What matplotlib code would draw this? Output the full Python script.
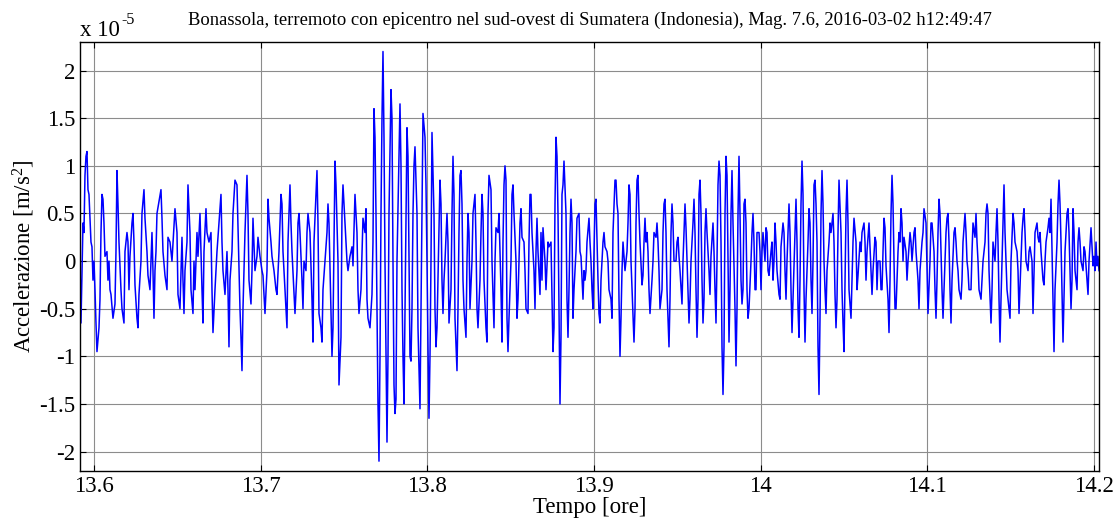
import numpy as np
import matplotlib
matplotlib.use("Agg")
import matplotlib.pyplot as plt
from matplotlib.ticker import FuncFormatter, MultipleLocator

plt.rcParams['font.family'] = ['Liberation Serif', 'DejaVu Serif']
plt.rcParams['mathtext.fontset'] = 'custom'
plt.rcParams['mathtext.rm'] = 'Liberation Serif'
plt.rcParams['mathtext.it'] = 'Liberation Serif:italic'
plt.rcParams['axes.unicode_minus'] = False

# (tempo [ore], accelerazione [x 1e-5 m/s^2]), tratto per tratto
seg1 = [(13.5916, 0.0), (13.5922, -0.65), (13.5934, 0.4), (13.5940, 0.3), (13.5946, 0.9), (13.5952, 1.1),
        (13.5958, 1.15), (13.5964, 0.75), (13.5970, 0.7), (13.5982, 0.2), (13.5988, 0.15), (13.5994, -0.2),
        (13.6000, 0.0), (13.6006, -0.3), (13.6012, -0.65), (13.6018, -0.95), (13.6030, -0.7), (13.6036, -0.4),
        (13.6042, 0.3), (13.6048, 0.7), (13.6054, 0.65), (13.6060, 0.4), (13.6066, 0.05), (13.6078, 0.1),
        (13.6084, -0.2), (13.6090, 0.0), (13.6096, -0.3), (13.6102, -0.35), (13.6114, -0.6), (13.6126, -0.45),
        (13.6132, 0.1), (13.6138, 0.95), (13.6144, 0.6), (13.6150, 0.2), (13.6162, -0.3), (13.6168, -0.5),
        (13.6180, -0.65), (13.6186, 0.1), (13.6198, 0.3), (13.6204, 0.2), (13.6210, -0.3), (13.6216, 0.05),
        (13.6228, 0.4), (13.6234, 0.5), (13.6240, 0.2), (13.6246, -0.25), (13.6258, -0.6), (13.6264, -0.7),
        (13.6270, -0.35), (13.6282, 0.0), (13.6288, 0.5), (13.6300, 0.75), (13.6306, 0.45), (13.6318, 0.1),
        (13.6324, -0.15), (13.6336, -0.3), (13.6342, 0.0), (13.6348, 0.3), (13.6354, -0.1), (13.6360, -0.6),
        (13.6366, -0.1), (13.6372, 0.1), (13.6378, 0.5), (13.6402, 0.75), (13.6408, 0.45), (13.6414, 0.1),
        (13.6426, -0.15), (13.6438, -0.3), (13.6444, 0.25)]
seg2 = [(13.6456, 0.2), (13.6468, 0.0), (13.6486, 0.55), (13.6498, 0.3), (13.6504, -0.35), (13.6516, -0.5),
        (13.6528, 0.25), (13.6534, -0.2), (13.6540, -0.55), (13.6546, -0.1), (13.6558, 0.2), (13.6564, 0.8),
        (13.6576, 0.3), (13.6582, -0.3), (13.6594, -0.55), (13.6600, 0.0), (13.6606, -0.3), (13.6618, 0.3),
        (13.6624, 0.05), (13.6636, 0.5), (13.6648, -0.3), (13.6654, -0.65), (13.6660, 0.1), (13.6672, 0.55),
        (13.6678, 0.3), (13.6690, 0.2), (13.6702, 0.3), (13.6708, -0.3), (13.6714, -0.75), (13.6726, -0.3),
        (13.6738, 0.1), (13.6750, 0.4), (13.6762, 0.7), (13.6768, 0.2), (13.6774, -0.1), (13.6786, -0.35),
        (13.6798, 0.1), (13.6804, -0.3), (13.6810, -0.9), (13.6816, -0.2), (13.6828, 0.1), (13.6834, 0.5),
        (13.6846, 0.85), (13.6858, 0.8), (13.6864, 0.35), (13.6876, -0.5), (13.6882, -0.8), (13.6888, -1.15),
        (13.6894, -0.5), (13.6906, 0.3), (13.6918, 0.9), (13.6924, 0.5), (13.6930, -0.2), (13.6942, -0.45),
        (13.6948, -0.1), (13.6954, 0.45), (13.6966, -0.1), (13.6978, 0.05), (13.6984, 0.25), (13.6996, 0.05),
        (13.7008, -0.1), (13.7014, -0.15), (13.7026, -0.55)]
seg3 = [(13.7038, -0.1), (13.7044, 0.65), (13.7050, 0.45), (13.7062, 0.2), (13.7068, 0.05), (13.7080, -0.1),
        (13.7092, -0.3), (13.7098, -0.35), (13.7110, 0.1), (13.7122, 0.7), (13.7128, 0.6), (13.7134, 0.1),
        (13.7146, -0.3), (13.7158, -0.7), (13.7164, 0.2), (13.7176, 0.8), (13.7182, 0.4), (13.7188, 0.1),
        (13.7200, -0.35), (13.7206, -0.55), (13.7218, -0.1), (13.7224, 0.4), (13.7230, 0.5), (13.7236, 0.3),
        (13.7248, -0.2), (13.7254, -0.5), (13.7260, 0.0), (13.7272, -0.1), (13.7278, 0.3), (13.7284, 0.5),
        (13.7296, 0.3), (13.7308, -0.4), (13.7314, -0.85), (13.7320, 0.2), (13.7332, 0.7), (13.7338, 0.95),
        (13.7344, 0.4), (13.7350, -0.55), (13.7362, -0.7), (13.7368, -0.85), (13.7374, -0.3), (13.7386, 0.0),
        (13.7398, 0.3), (13.7404, 0.6), (13.7410, 0.4), (13.7422, -0.5), (13.7428, -1.0), (13.7434, -0.7),
        (13.7446, 1.05), (13.7452, 0.8), (13.7464, 0.0), (13.7470, -1.3), (13.7482, -0.8), (13.7488, 0.5),
        (13.7494, 0.8), (13.7506, 0.4), (13.7518, 0.0), (13.7524, -0.1), (13.7536, 0.05), (13.7548, 0.15),
        (13.7554, -0.05), (13.7566, 0.7), (13.7578, 0.3), (13.7584, -0.3), (13.7590, -0.55), (13.7602, -0.3),
        (13.7614, 0.45), (13.7626, 0.3)]
seg4 = [(13.7632, 0.55), (13.7638, -0.4), (13.7644, -0.6), (13.7656, -0.7), (13.7668, -0.35), (13.7674, 0.2),
        (13.7680, 1.6), (13.7686, 1.3), (13.7692, 0.5), (13.7698, -0.5), (13.7704, -1.5), (13.7710, -2.1),
        (13.7716, -1.0), (13.7722, 0.5), (13.7728, 1.5), (13.7734, 2.2), (13.7740, 1.3), (13.7746, 0.0),
        (13.7752, -1.0), (13.7758, -1.9), (13.7764, -1.0), (13.7770, 0.5), (13.7782, 1.8), (13.7788, 1.5),
        (13.7794, 0.0), (13.7800, -1.3), (13.7806, -1.6), (13.7812, -1.45), (13.7818, 0.0), (13.7830, 1.1),
        (13.7836, 1.65), (13.7842, 1.0), (13.7848, -0.3), (13.7854, -1.0), (13.7860, -1.5), (13.7866, -0.5),
        (13.7872, 0.5), (13.7878, 1.4), (13.7884, 1.1), (13.7890, 0.0), (13.7896, -1.0), (13.7902, -1.05),
        (13.7908, -0.5), (13.7914, 0.5), (13.7920, 1.0), (13.7926, 1.2), (13.7938, 0.5), (13.7944, -0.7),
        (13.7956, -1.55), (13.7962, -0.5), (13.7968, 0.5), (13.7974, 1.55), (13.7986, 1.3), (13.7992, 0.8),
        (13.7998, 0.0), (13.8004, -0.9), (13.8010, -1.65), (13.8016, -1.0), (13.8022, 0.0), (13.8028, 1.35),
        (13.8034, 0.9), (13.8040, 0.5), (13.8046, -0.5), (13.8052, -0.9), (13.8058, -0.7), (13.8070, 0.3),
        (13.8076, 0.85), (13.8082, 0.6), (13.8088, -0.2), (13.8094, -0.55), (13.8100, -0.2), (13.8106, 0.0),
        (13.8118, 0.5), (13.8124, 0.2), (13.8130, -0.65), (13.8142, -0.3), (13.8148, 0.5), (13.8154, 1.1),
        (13.8160, 0.7), (13.8166, -0.6), (13.8178, -1.15), (13.8184, -0.5), (13.8190, 0.3)]
seg5 = [(13.8196, 0.9), (13.8202, 0.95), (13.8208, 0.6), (13.8214, -0.2), (13.8220, -0.5), (13.8232, -0.8),
        (13.8238, 0.0), (13.8244, 0.5), (13.8250, 0.3), (13.8256, -0.5), (13.8268, 0.0), (13.8274, 0.5),
        (13.8280, 0.6), (13.8286, 0.7), (13.8292, 0.2), (13.8298, -0.5), (13.8304, -0.7), (13.8316, -0.2),
        (13.8322, 0.3), (13.8328, 0.7), (13.8334, 0.5), (13.8340, -0.2), (13.8352, -0.7), (13.8358, -0.85),
        (13.8364, 0.5), (13.8370, 0.9), (13.8382, 0.75), (13.8388, 0.0), (13.8394, -0.35), (13.8400, -0.7),
        (13.8406, 0.0), (13.8412, 0.35), (13.8424, 0.3), (13.8430, 0.5), (13.8436, 0.1), (13.8442, -0.3),
        (13.8448, -0.85), (13.8454, 0.2), (13.8460, 0.8), (13.8466, 1.0), (13.8472, 0.85), (13.8478, -0.6),
        (13.8484, -0.95), (13.8490, -0.6), (13.8502, 0.0), (13.8508, 0.7), (13.8514, 0.8), (13.8520, 0.5),
        (13.8532, 0.0), (13.8538, -0.6), (13.8544, -0.4), (13.8556, 0.4), (13.8562, 0.55), (13.8568, 0.25),
        (13.8580, 0.2), (13.8586, -0.1), (13.8592, -0.5), (13.8604, -0.55), (13.8610, 0.2), (13.8616, 0.7),
        (13.8622, 0.7), (13.8628, 0.3), (13.8640, -0.1), (13.8646, -0.5), (13.8652, 0.1), (13.8658, 0.45),
        (13.8664, 0.1), (13.8676, -0.35), (13.8682, 0.3), (13.8688, -0.2), (13.8694, 0.35), (13.8706, 0.0),
        (13.8712, -0.3), (13.8724, 0.2), (13.8730, 0.15), (13.8742, 0.2), (13.8748, -0.35), (13.8754, -0.95),
        (13.8760, -0.7), (13.8766, 0.6)]
seg6 = [(13.8772, 1.3), (13.8778, 1.1), (13.8784, 0.5), (13.8790, -0.5), (13.8796, -1.5), (13.8802, -0.8),
        (13.8808, 0.7), (13.8814, 0.8), (13.8820, 1.05), (13.8832, 0.5), (13.8838, -0.4), (13.8844, -0.8),
        (13.8850, -0.3), (13.8856, 0.3), (13.8862, 0.65), (13.8868, 0.4), (13.8874, -0.6), (13.8880, -0.3),
        (13.8892, 0.1), (13.8898, 0.45), (13.8910, 0.5), (13.8916, 0.1), (13.8922, 0.05), (13.8934, -0.4),
        (13.8940, -0.1), (13.8946, -0.2), (13.8952, -0.1), (13.8958, 0.2), (13.8970, 0.45), (13.8976, 0.2),
        (13.8982, 0.0), (13.8988, -0.3), (13.8994, -0.5), (13.9000, 0.1), (13.9006, 0.6), (13.9012, 0.65),
        (13.9018, 0.2), (13.9024, -0.2), (13.9030, -0.55), (13.9036, -0.65), (13.9042, -0.2), (13.9054, 0.2),
        (13.9060, 0.3), (13.9066, 0.15), (13.9078, 0.1), (13.9084, 0.0), (13.9090, -0.3), (13.9102, -0.4),
        (13.9108, -0.6), (13.9114, 0.3), (13.9126, 0.85), (13.9132, 0.85), (13.9138, 0.6), (13.9144, 0.5),
        (13.9150, -0.4), (13.9156, -1.0), (13.9162, -0.6), (13.9168, -0.1), (13.9174, 0.2), (13.9186, -0.1),
        (13.9198, 0.1), (13.9204, 0.4), (13.9210, 0.8), (13.9216, 0.7), (13.9222, 0.0), (13.9234, -0.55),
        (13.9240, -0.85), (13.9246, -0.5), (13.9252, 0.4), (13.9258, 0.85), (13.9264, 0.9), (13.9270, 0.5),
        (13.9276, 0.2), (13.9288, -0.25), (13.9294, -0.15), (13.9300, 0.2), (13.9306, 0.45)]
seg7 = [(13.9312, 0.2), (13.9318, 0.3), (13.9324, 0.1), (13.9330, -0.3), (13.9336, -0.55), (13.9348, -0.2),
        (13.9354, 0.0), (13.9360, 0.3), (13.9372, 0.25), (13.9378, 0.4), (13.9384, 0.2), (13.9390, -0.1),
        (13.9396, -0.5), (13.9408, -0.3), (13.9414, 0.3), (13.9420, 0.6), (13.9426, 0.65), (13.9432, 0.3),
        (13.9438, -0.3), (13.9444, -0.6), (13.9450, -0.9), (13.9456, -0.4), (13.9462, 0.3), (13.9468, 0.6),
        (13.9474, 0.4), (13.9480, 0.0), (13.9492, 0.0), (13.9498, 0.2), (13.9504, 0.25), (13.9510, 0.05),
        (13.9516, -0.1), (13.9528, -0.45), (13.9534, 0.0), (13.9540, 0.3), (13.9546, 0.6), (13.9552, 0.35),
        (13.9564, -0.3), (13.9570, -0.65), (13.9576, -0.4), (13.9582, 0.0), (13.9594, 0.4), (13.9600, 0.65),
        (13.9606, 0.3), (13.9612, -0.3), (13.9618, -0.8), (13.9624, -0.4), (13.9630, 0.7), (13.9636, 0.85),
        (13.9642, 0.5), (13.9648, -0.2), (13.9654, -0.65), (13.9660, -0.4), (13.9666, 0.3), (13.9672, 0.55),
        (13.9678, 0.3), (13.9690, -0.1), (13.9696, -0.35), (13.9702, 0.05), (13.9714, 0.4), (13.9720, 0.1),
        (13.9726, -0.3), (13.9732, -0.65), (13.9738, 0.0), (13.9744, 0.8), (13.9750, 1.05), (13.9756, 0.9),
        (13.9762, 0.2), (13.9768, -0.9), (13.9774, -1.4), (13.9780, -0.9), (13.9786, 0.5), (13.9792, 1.1),
        (13.9798, 0.9), (13.9804, 0.0), (13.9810, -0.85), (13.9816, -0.3), (13.9822, 0.5), (13.9828, 0.95),
        (13.9834, 0.4), (13.9846, -0.5), (13.9852, -1.1), (13.9858, -0.5), (13.9864, 0.5), (13.9870, 1.1),
        (13.9876, 0.5), (13.9882, -0.2), (13.9888, -0.45), (13.9894, -0.3), (13.9900, 0.6)]
seg8 = [(13.9906, 0.65), (13.9912, 0.4), (13.9918, -0.3), (13.9924, -0.6), (13.9930, -0.5), (13.9942, 0.0),
        (13.9948, 0.3), (13.9954, 0.5), (13.9960, 0.2), (13.9966, -0.3), (13.9972, -0.3), (13.9978, 0.3),
        (13.9990, 0.3), (13.9996, 0.1), (14.0002, -0.3), (14.0008, 0.1), (14.0014, 0.3), (14.0026, 0.0),
        (14.0032, 0.35), (14.0038, 0.3), (14.0044, -0.1), (14.0050, -0.15), (14.0062, 0.1), (14.0068, 0.2),
        (14.0074, -0.2), (14.0080, 0.0), (14.0086, 0.4), (14.0092, 0.2), (14.0098, -0.1), (14.0110, -0.35),
        (14.0116, -0.4), (14.0122, 0.15), (14.0134, 0.4), (14.0140, 0.3), (14.0146, -0.1), (14.0152, -0.4),
        (14.0158, 0.0), (14.0164, 0.3), (14.0170, 0.6), (14.0176, 0.3), (14.0182, -0.3), (14.0188, -0.75),
        (14.0194, -0.4), (14.0206, 0.3), (14.0212, 0.65), (14.0218, 0.2), (14.0224, -0.5), (14.0230, -0.8),
        (14.0236, -0.2), (14.0242, 0.6), (14.0248, 1.05), (14.0254, 0.7), (14.0260, -0.3), (14.0266, -0.85),
        (14.0272, -0.4), (14.0284, 0.2), (14.0290, 0.55), (14.0296, 0.4), (14.0302, -0.2), (14.0308, -0.55),
        (14.0314, 0.0), (14.0320, 0.8), (14.0326, 0.85), (14.0332, 0.6), (14.0338, 0.2), (14.0344, -0.9),
        (14.0350, -1.4), (14.0356, -0.6), (14.0362, 0.5), (14.0368, 0.95), (14.0374, 0.6), (14.0380, 0.0),
        (14.0386, -0.3), (14.0392, -0.55), (14.0398, -0.1), (14.0410, 0.2), (14.0416, 0.4), (14.0422, 0.3),
        (14.0434, 0.5), (14.0440, 0.2), (14.0446, -0.35), (14.0452, -0.7), (14.0458, -0.4), (14.0464, 0.3),
        (14.0470, 0.85)]
seg9 = [(14.0482, 0.3), (14.0488, -0.3), (14.0494, -0.65), (14.0500, -0.95), (14.0506, -0.2), (14.0512, 0.5),
        (14.0518, 0.85), (14.0524, 0.4), (14.0530, -0.3), (14.0542, -0.6), (14.0548, -0.2), (14.0554, 0.2),
        (14.0560, 0.45), (14.0572, 0.2), (14.0578, -0.3), (14.0584, -0.15), (14.0596, 0.2), (14.0602, 0.1),
        (14.0608, 0.3), (14.0620, 0.4), (14.0626, 0.2), (14.0632, -0.2), (14.0638, 0.1), (14.0650, 0.4),
        (14.0656, 0.15), (14.0662, -0.1), (14.0668, -0.35), (14.0674, -0.1), (14.0686, 0.25), (14.0692, 0.2),
        (14.0698, -0.3), (14.0704, 0.0), (14.0716, 0.0), (14.0722, -0.3), (14.0728, -0.3), (14.0734, 0.1),
        (14.0740, 0.45), (14.0746, 0.35), (14.0752, -0.05), (14.0764, -0.4), (14.0770, -0.75), (14.0776, -0.2),
        (14.0782, 0.5), (14.0788, 0.9), (14.0794, 0.6), (14.0800, 0.0), (14.0806, -0.5), (14.0812, -0.5),
        (14.0824, 0.1), (14.0830, 0.3), (14.0836, 0.2), (14.0842, 0.55), (14.0848, 0.4), (14.0854, 0.0),
        (14.0860, 0.25), (14.0872, 0.1), (14.0878, -0.2), (14.0884, 0.0), (14.0896, 0.3), (14.0902, 0.2),
        (14.0908, 0.0), (14.0920, 0.3), (14.0926, 0.35), (14.0932, 0.1), (14.0944, -0.2), (14.0950, -0.5),
        (14.0956, -0.1), (14.0968, 0.2), (14.0974, 0.3), (14.0980, 0.55), (14.0992, 0.4), (14.0998, -0.1),
        (14.1004, -0.55), (14.1016, 0.0), (14.1022, 0.4), (14.1028, 0.4), (14.1040, 0.1), (14.1046, -0.3)]
seg10 = [(14.1052, -0.6), (14.1058, -0.2), (14.1064, 0.3), (14.1070, 0.65), (14.1076, 0.5), (14.1082, 0.1),
         (14.1088, -0.3), (14.1094, -0.6), (14.1100, -0.3), (14.1112, 0.3), (14.1118, 0.45), (14.1124, 0.5),
         (14.1130, 0.2), (14.1136, -0.3), (14.1142, -0.65), (14.1148, -0.2), (14.1160, 0.3), (14.1166, 0.35),
         (14.1172, 0.2), (14.1178, 0.0), (14.1184, -0.1), (14.1190, -0.3), (14.1202, -0.4), (14.1208, -0.2),
         (14.1214, 0.2), (14.1226, 0.5), (14.1232, 0.3), (14.1238, 0.0), (14.1244, -0.1), (14.1250, -0.3),
         (14.1262, -0.3), (14.1268, 0.1), (14.1274, 0.4), (14.1286, 0.25), (14.1292, 0.5), (14.1298, 0.2),
         (14.1304, 0.0), (14.1310, -0.3), (14.1322, -0.4), (14.1328, -0.2), (14.1334, 0.0), (14.1346, 0.2),
         (14.1352, 0.5), (14.1358, 0.6), (14.1364, 0.5), (14.1370, -0.1), (14.1382, -0.65), (14.1388, -0.3),
         (14.1394, 0.2), (14.1406, 0.0), (14.1412, 0.3), (14.1418, 0.55), (14.1424, 0.2), (14.1430, -0.4),
         (14.1436, -0.85), (14.1442, -0.4), (14.1454, 0.4), (14.1460, 0.8), (14.1466, 0.3), (14.1472, 0.0),
         (14.1478, -0.3), (14.1490, -0.5), (14.1496, -0.6), (14.1502, 0.0), (14.1514, 0.5), (14.1520, 0.4),
         (14.1526, 0.2), (14.1538, 0.1), (14.1544, -0.1), (14.1550, -0.55), (14.1562, 0.0), (14.1568, 0.3),
         (14.1574, 0.45), (14.1580, 0.55), (14.1586, 0.3)]
seg11 = [(14.1592, 0.0), (14.1604, -0.1), (14.1610, 0.1), (14.1616, 0.15), (14.1628, 0.0), (14.1634, -0.55),
         (14.1640, -0.1), (14.1646, 0.3), (14.1658, 0.4), (14.1664, 0.25), (14.1670, 0.2), (14.1676, 0.3),
         (14.1682, 0.1), (14.1694, -0.2), (14.1700, -0.25), (14.1706, 0.0), (14.1712, 0.2), (14.1724, 0.35),
         (14.1730, 0.45), (14.1736, 0.3), (14.1742, 0.65), (14.1748, 0.1), (14.1754, -0.5), (14.1760, -0.95),
         (14.1766, -0.3), (14.1778, 0.2), (14.1784, 0.6), (14.1790, 0.85), (14.1796, 0.6), (14.1802, 0.2),
         (14.1808, -0.3), (14.1814, -0.85), (14.1820, -0.4), (14.1826, 0.1), (14.1838, 0.5), (14.1844, 0.55),
         (14.1850, 0.3), (14.1856, -0.1), (14.1862, -0.5), (14.1868, -0.2), (14.1874, 0.55), (14.1880, 0.3),
         (14.1886, -0.1), (14.1898, -0.3), (14.1904, 0.2), (14.1910, 0.35), (14.1916, 0.2), (14.1922, 0.0),
         (14.1934, -0.1), (14.1940, 0.15), (14.1946, 0.1), (14.1958, -0.2), (14.1964, -0.35), (14.1970, 0.0),
         (14.1982, 0.35), (14.1988, 0.15), (14.1994, -0.05), (14.2000, 0.05), (14.2006, -0.1), (14.2012, 0.2),
         (14.2018, -0.05), (14.2024, 0.05), (14.2030, -0.1)]

segments = [seg1, seg2, seg3, seg4, seg5, seg6, seg7, seg8, seg9, seg10, seg11]
tempo = np.array([p[0] for s in segments for p in s])
acc = np.array([p[1] for s in segments for p in s])  # in unita di 1e-5 m/s^2

titolo = ('Bonassola, terremoto con epicentro nel sud-ovest di Sumatera (Indonesia), '
          'Mag. 7.6, 2016-03-02 h12:49:47')

fig = plt.figure(figsize=(11.17, 5.19), dpi=100)
ax = fig.add_axes([0.0716, 0.0931, 0.9123, 0.826])

ax.plot(tempo, acc, color='#0000ff', linewidth=1.1)

ax.set_xlim(13.5916, 14.2030)
ax.set_ylim(-2.2, 2.3)
ax.xaxis.set_major_locator(MultipleLocator(0.1))
ax.yaxis.set_major_locator(MultipleLocator(0.5))
ax.xaxis.set_major_formatter(FuncFormatter(lambda v, p: '%g' % round(v, 2)))
ax.yaxis.set_major_formatter(FuncFormatter(lambda v, p: '%g' % round(v, 2)))

ax.grid(True, color='0.55', linewidth=0.8)
ax.set_axisbelow(True)
ax.tick_params(direction='in', top=True, right=True, length=4, width=0.8,
               labelsize=16.5, pad=3.5)
for sp in ax.spines.values():
    sp.set_linewidth(1.0)

ax.set_title(titolo, fontsize=13.4, pad=12.5)
ax.set_xlabel('Tempo [ore]', fontsize=16.5, labelpad=0)
ax.set_ylabel('Accelerazione [m/s$^{2}$]', fontsize=16.5, labelpad=1)

# fattore di scala in alto a sinistra, alla maniera di MATLAB
ax.text(0.0, 1.014, 'x 10', transform=ax.transAxes, fontsize=16.5,
        ha='left', va='baseline')
ax.text(0.0405, 1.042, '-5', transform=ax.transAxes, fontsize=11.5,
        ha='left', va='baseline')

fig.savefig('out.png', dpi=100)
